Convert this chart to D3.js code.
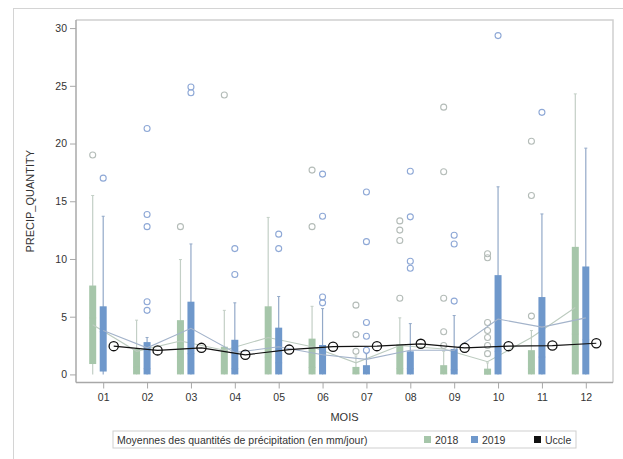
<!DOCTYPE html>
<html>
<head>
<meta charset="utf-8">
<title>Precipitations par mois</title>
<script src="https://d3js.org/d3.v7.min.js"></script>
<style>
body { margin: 0; background: #fff; }
text { font-family: "Liberation Sans", Arial, sans-serif; }
.tick text { font-size: 10.5px; fill: #333; }
</style>
</head>
<body>
<svg id="chart" width="623" height="459"></svg>
<script>

// months on the x axis
var months = ["01","02","03","04","05","06","07","08","09","10","11","12"];
var yTicks = [0, 5, 10, 15, 20, 25, 30];

// 2018 boxes
var lo2018   = [0, 0, 0, 0, 0, 0, 0, 0, 0, 0, 0, 0];
var q1_2018  = [0.9, 0, 0, 0, 0, 0, 0, 0, 0, 0, 0, 0];
var med2018  = [4.9, 0.6, 1.5, 0.3, 1.5, 0.6, 0.1, 0.5, 0.1, 0, 0.5, 3.5];
var q3_2018  = [7.7, 2.2, 4.7, 2.4, 5.9, 3.1, 0.65, 2.6, 0.8, 0.5, 2.1, 11.05];
var hi2018   = [15.5, 4.7, 9.95, 5.55, 13.6, 5.9, 1.6, 4.9, 2.0, 1.0, 3.8, 24.3];
var mean2018 = [4.3, 2.0, 2.9, 2.1, 3.2, 2.4, 1.0, 2.5, 2.2, 1.1, 3.2, 5.8];
var out2018  = [
  ["01", 19.0], ["03", 12.8], ["04", 24.2], ["06", 17.7], ["06", 12.8],
  ["07", 6.0], ["07", 3.45], ["07", 2.0],
  ["08", 13.3], ["08", 12.5], ["08", 11.6], ["08", 6.6],
  ["09", 23.15], ["09", 17.55], ["09", 6.6], ["09", 3.7], ["09", 2.5],
  ["10", 10.45], ["10", 10.1], ["10", 4.5], ["10", 3.8], ["10", 3.2], ["10", 2.5], ["10", 1.8],
  ["11", 20.2], ["11", 15.5], ["11", 5.05]
];

// 2019 boxes
var lo2019   = [0, 0, 0, 0, 0, 0, 0, 0, 0, 0, 0, 0];
var q1_2019  = [0.25, 0, 0, 0, 0, 0, 0, 0, 0, 0, 0, 0];
var med2019  = [3.7, 0.5, 1.8, 0.5, 1.0, 0.3, 0.1, 0.5, 0.4, 2.0, 1.5, 3.0];
var q3_2019  = [5.9, 2.8, 6.3, 3.0, 4.05, 2.55, 0.8, 2.0, 2.2, 8.6, 6.7, 9.35];
var hi2019   = [13.7, 3.2, 11.3, 6.2, 6.75, 5.7, 1.8, 4.4, 5.1, 16.25, 13.9, 19.6];
var mean2019 = [3.8, 2.3, 4.0, 1.9, 2.4, 1.7, 1.3, 2.1, 2.1, 4.8, 4.1, 4.9];
var out2019  = [
  ["01", 17.0], ["02", 21.3], ["02", 13.85], ["02", 12.8], ["02", 6.3], ["02", 5.55],
  ["03", 24.9], ["03", 24.4], ["04", 10.9], ["04", 8.65], ["05", 12.15], ["05", 10.9],
  ["06", 17.35], ["06", 13.7], ["06", 6.7], ["06", 6.2],
  ["07", 15.8], ["07", 11.5], ["07", 4.5], ["07", 3.3], ["07", 2.1],
  ["08", 17.6], ["08", 13.65], ["08", 9.8], ["08", 9.2],
  ["09", 12.05], ["09", 11.3], ["09", 6.35], ["10", 29.35], ["11", 22.7]
];

// Uccle monthly means
var uccle = [2.45, 2.08, 2.3, 1.7, 2.15, 2.4, 2.45, 2.65, 2.3, 2.45, 2.5, 2.7];

var groups = ["2018", "2019", "Uccle"];
var legendTitle = "Moyennes des quantités de précipitation (en mm/jour)";

var svg = d3.select("#chart");
var plotL = 76, plotR = 613, plotT = 20, plotB = 382.5;

var x = d3.scalePoint().domain(months).range([plotL, plotR]).padding(0.62);
var dx = d3.scalePoint().domain(groups).range([-10.5, 10.5]);
var y = d3.scaleLinear().domain([-0.7, 30.7]).range([plotB, plotT]);

var colors = {
  "2018": { fill: "#a6c6aa", whisk: "#c3cfc6", out: "#b4bcb8", line: "#bccbbf" },
  "2019": { fill: "#6f98cb", whisk: "#93a9c8", out: "#8ea8d6", line: "#a3b3ca" }
};

// outer border
svg.append("rect")
  .attr("x", 13.5).attr("y", 8.5)
  .attr("width", 640).attr("height", 470)
  .attr("fill", "none").attr("stroke", "#d4d4d4");

// plot frame
svg.append("path")
  .attr("d", "M" + plotL + "," + plotT + "H" + plotR + "V" + plotB)
  .attr("fill", "none").attr("stroke", "#d0d0d0").attr("stroke-width", 1.5);

function drawYear(key, lo, q1, med, q3, hi, mean, outs) {
  var c = colors[key];
  var g = svg.append("g").attr("class", "year" + key);
  var bw = 7;

  months.forEach(function(m, i) {
    var cx = x(m) + dx(key);
    g.append("line")
      .attr("x1", cx).attr("x2", cx)
      .attr("y1", y(hi[i])).attr("y2", y(lo[i]))
      .attr("stroke", c.whisk).attr("stroke-width", 1.2);
    g.append("line")
      .attr("x1", cx - 1.5).attr("x2", cx + 1.5)
      .attr("y1", y(hi[i])).attr("y2", y(hi[i]))
      .attr("stroke", c.whisk);
    g.append("rect")
      .attr("x", cx - bw / 2).attr("width", bw)
      .attr("y", y(q3[i]))
      .attr("height", Math.max(1.5, y(q1[i]) - y(q3[i])))
      .attr("fill", c.fill);
    g.append("line")
      .attr("x1", cx - bw / 2).attr("x2", cx + bw / 2)
      .attr("y1", y(med[i])).attr("y2", y(med[i]))
      .attr("stroke", c.fill).attr("stroke-opacity", 0.6);
  });

  // connect the means
  g.append("path")
    .datum(mean)
    .attr("fill", "none")
    .attr("stroke", c.line).attr("stroke-width", 1.1)
    .attr("d", d3.line()
      .x(function(d, i) { return x(months[i]) + dx(key); })
      .y(function(d) { return y(d); }));

  g.selectAll("circle.out")
    .data(outs)
    .enter().append("circle")
    .attr("class", "out")
    .attr("cx", function(d) { return x(d[0]) + dx(key); })
    .attr("cy", function(d) { return y(d[1]); })
    .attr("r", 3)
    .attr("fill", "none")
    .attr("stroke", c.out).attr("stroke-width", 1.1);
}

drawYear("2018", lo2018, q1_2018, med2018, q3_2018, hi2018, mean2018, out2018);
drawYear("2019", lo2019, q1_2019, med2019, q3_2019, hi2019, mean2019, out2019);

// Uccle line with open circles
var gu = svg.append("g");
gu.append("path")
  .datum(uccle)
  .attr("fill", "none").attr("stroke", "#111").attr("stroke-width", 1.2)
  .attr("d", d3.line()
    .x(function(d, i) { return x(months[i]) + dx("Uccle"); })
    .y(function(d) { return y(d); }));
gu.selectAll("circle")
  .data(uccle)
  .enter().append("circle")
  .attr("cx", function(d, i) { return x(months[i]) + dx("Uccle"); })
  .attr("cy", function(d) { return y(d); })
  .attr("r", 4.6)
  .attr("fill", "none").attr("stroke", "#111").attr("stroke-width", 1.3);

// axes
var yAxis = svg.append("g")
  .attr("transform", "translate(" + plotL + ",0)")
  .call(d3.axisLeft(y).tickValues(yTicks).tickSize(6).tickPadding(3));
var xAxis = svg.append("g")
  .attr("transform", "translate(0," + plotB + ")")
  .call(d3.axisBottom(x).tickSize(6).tickPadding(5));
[yAxis, xAxis].forEach(function(a) {
  a.select(".domain").attr("stroke", "#a8a8a8").attr("stroke-width", 1.5);
  a.selectAll(".tick line").attr("stroke", "#a8a8a8");
});
yAxis.select(".domain").attr("d", "M0," + plotT + "V" + plotB);
xAxis.select(".domain").attr("d", "M" + plotL + ",0H" + plotR);

svg.append("text")
  .attr("transform", "translate(34," + ((plotT + plotB) / 2) + ") rotate(-90)")
  .attr("text-anchor", "middle")
  .attr("font-size", 11).attr("fill", "#333")
  .text("PRECIP_QUANTITY");

svg.append("text")
  .attr("x", (plotL + plotR) / 2).attr("y", 421)
  .attr("text-anchor", "middle")
  .attr("font-size", 11).attr("fill", "#333")
  .text("MOIS");

// legend
var lg = svg.append("g").attr("transform", "translate(113,431)");
lg.append("rect")
  .attr("width", 463).attr("height", 17)
  .attr("fill", "#fff").attr("stroke", "#cfcfcf");
lg.append("text")
  .attr("x", 4).attr("y", 12.5)
  .attr("font-size", 10.5).attr("fill", "#333")
  .text(legendTitle);

var legendItems = [
  { label: "2018", color: colors["2018"].fill, x: 311 },
  { label: "2019", color: colors["2019"].fill, x: 358 },
  { label: "Uccle", color: "#111", x: 421 }
];
var li = lg.selectAll("g.item")
  .data(legendItems)
  .enter().append("g")
  .attr("class", "item")
  .attr("transform", function(d) { return "translate(" + d.x + ",0)"; });
li.append("rect")
  .attr("y", 5).attr("width", 7).attr("height", 7)
  .attr("fill", function(d) { return d.color; });
li.append("text")
  .attr("x", 11).attr("y", 12.5)
  .attr("font-size", 10.5).attr("fill", "#333")
  .text(function(d) { return d.label; });

</script>
</body>
</html>
